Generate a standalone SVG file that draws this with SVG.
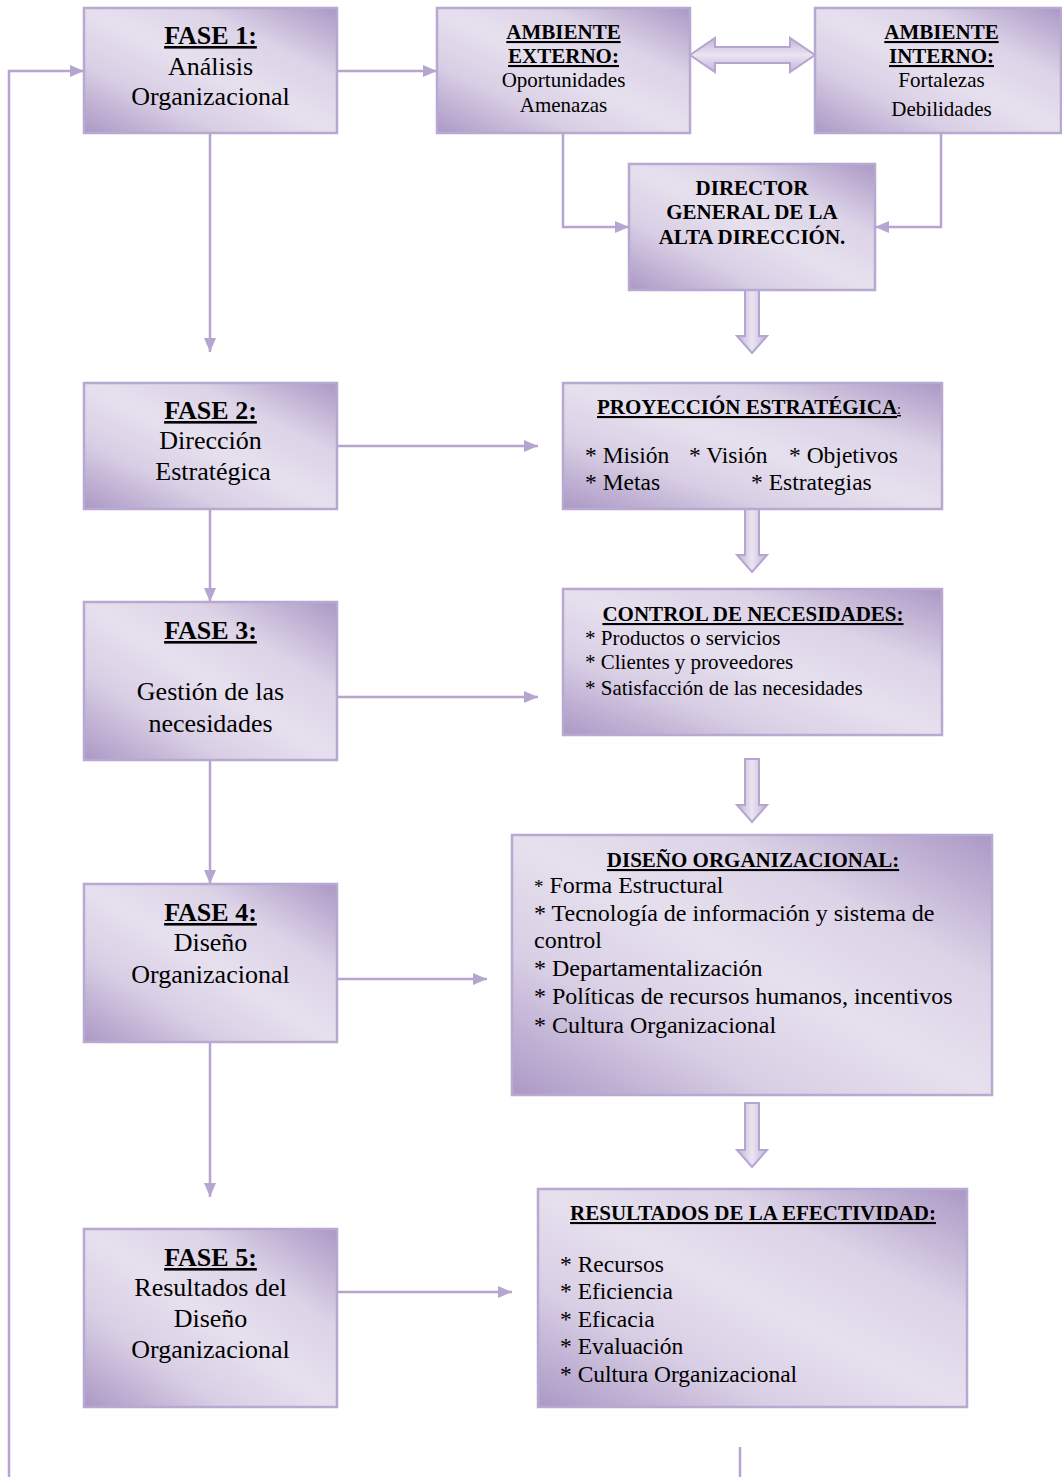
<svg xmlns="http://www.w3.org/2000/svg" width="1062" height="1477" viewBox="0 0 1062 1477">
<defs>
<linearGradient id="gb" x1="0" y1="1" x2="1" y2="0">
<stop offset="0" stop-color="#ab98c5"/>
<stop offset="0.28" stop-color="#d9cfe5"/>
<stop offset="0.5" stop-color="#e6e0ee"/>
<stop offset="0.72" stop-color="#dcd3e7"/>
<stop offset="1" stop-color="#ab98c5"/>
</linearGradient>
<linearGradient id="ga" x1="0" y1="0" x2="1" y2="0">
<stop offset="0" stop-color="#c2b3d8"/>
<stop offset="0.5" stop-color="#ebe5f2"/>
<stop offset="1" stop-color="#c2b3d8"/>
</linearGradient>
<linearGradient id="gv" x1="0" y1="0" x2="0" y2="1">
<stop offset="0" stop-color="#c2b3d8"/>
<stop offset="0.5" stop-color="#ebe5f2"/>
<stop offset="1" stop-color="#c2b3d8"/>
</linearGradient>
<marker id="ah" markerUnits="userSpaceOnUse" markerWidth="14" markerHeight="12" viewBox="0 0 14 12" refX="14" refY="6" orient="auto">
<path d="M0,0 L14,6 L0,12 Z" fill="#b5a5cf"/>
</marker>
</defs>
<style>
.box{fill:url(#gb);stroke:#b8a9d1;stroke-width:2.5}
.ln{fill:none;stroke:#b5a5cf;stroke-width:2.5}
.blk{fill:url(#ga);stroke:#b5a5cf;stroke-width:2}
.t{font-family:"Liberation Serif","Times New Roman",serif;fill:#000}
.h{font-weight:bold;text-decoration:underline}
.b{font-weight:bold}
.c{text-anchor:middle}
.f26{font-size:26px}
.f21{font-size:21px}
.f24{font-size:24px}
.f23{font-size:23.5px}
</style>
<rect width="1062" height="1477" fill="#ffffff"/>

<g id="connectors">
<polyline class="ln" points="9,1477 9,71 84,71" marker-end="url(#ah)"/>
<line class="ln" x1="337" y1="71" x2="437" y2="71" marker-end="url(#ah)"/>
<line class="ln" x1="210" y1="133" x2="210" y2="352" marker-end="url(#ah)"/>
<line class="ln" x1="337" y1="446" x2="538" y2="446" marker-end="url(#ah)"/>
<line class="ln" x1="210" y1="509" x2="210" y2="602" marker-end="url(#ah)"/>
<line class="ln" x1="337" y1="697" x2="538" y2="697" marker-end="url(#ah)"/>
<line class="ln" x1="210" y1="760" x2="210" y2="884" marker-end="url(#ah)"/>
<line class="ln" x1="337" y1="979" x2="487" y2="979" marker-end="url(#ah)"/>
<line class="ln" x1="210" y1="1042" x2="210" y2="1197" marker-end="url(#ah)"/>
<line class="ln" x1="337" y1="1292" x2="512" y2="1292" marker-end="url(#ah)"/>
<polyline class="ln" points="563,133 563,227 629,227" marker-end="url(#ah)"/>
<polyline class="ln" points="941,133 941,227 875,227" marker-end="url(#ah)"/>
<line class="ln" x1="740" y1="1447" x2="740" y2="1477"/>
<path class="blk" style="fill:url(#gv)" d="M690,55 L715,38 L715,47 L790,47 L790,38 L815,55 L790,72 L790,63 L715,63 L715,72 Z"/>
<path class="blk" d="M745,290 L759,290 L759,336 L767,336 L752,353 L737,336 L745,336 Z"/>
<path class="blk" d="M745,509 L759,509 L759,555 L767,555 L752,572 L737,555 L745,555 Z"/>
<path class="blk" d="M745,759 L759,759 L759,805 L767,805 L752,822 L737,805 L745,805 Z"/>
<path class="blk" d="M745,1103 L759,1103 L759,1150 L767,1150 L752,1167 L737,1150 L745,1150 Z"/>
</g>

<g id="fase1">
<rect class="box" x="84" y="8" width="253" height="125"/>
<text class="t h c f26" x="210.5" y="44">FASE 1:</text>
<text class="t c f26" x="210.5" y="75">Análisis</text>
<text class="t c f26" x="210.5" y="105">Organizacional</text>
</g>

<g id="ambiente-externo">
<rect class="box" x="437" y="8" width="253" height="125"/>
<text class="t h c f21" x="563.5" y="39">AMBIENTE</text>
<text class="t h c f21" x="563.5" y="63">EXTERNO:</text>
<text class="t c f21" x="563.5" y="87">Oportunidades</text>
<text class="t c f21" x="563.5" y="112">Amenazas</text>
</g>

<g id="ambiente-interno">
<rect class="box" x="815" y="8" width="246" height="125"/>
<text class="t h c f21" x="941.5" y="39">AMBIENTE</text>
<text class="t h c f21" x="941.5" y="63">INTERNO:</text>
<text class="t c f21" x="941.5" y="87">Fortalezas</text>
<text class="t c f21" x="941.5" y="116">Debilidades</text>
</g>

<g id="director">
<rect class="box" x="629" y="164" width="246" height="126"/>
<text class="t b c f21" x="752" y="195">DIRECTOR</text>
<text class="t b c f21" x="752" y="219">GENERAL DE LA</text>
<text class="t b c f21" x="752" y="244">ALTA DIRECCIÓN.</text>
</g>

<g id="fase2">
<rect class="box" x="84" y="383" width="253" height="126"/>
<text class="t h c f26" x="210.5" y="419">FASE 2:</text>
<text class="t c f26" x="210.5" y="449">Dirección</text>
<text class="t c f26" x="213" y="480">Estratégica</text>
</g>

<g id="proyeccion">
<rect class="box" x="563" y="383" width="379" height="126"/>
<text class="t f21" x="597" y="414"><tspan class="h">PROYECCIÓN ESTRATÉGICA</tspan><tspan style="font-size:14px;text-decoration:underline">:</tspan></text>
<text class="t f23" x="585" y="463">* Misión</text>
<text class="t f23" x="689" y="463">* Visión</text>
<text class="t f23" x="789" y="463">* Objetivos</text>
<text class="t f23" x="585" y="490">* Metas</text>
<text class="t f23" x="751" y="490">* Estrategias</text>
</g>

<g id="fase3">
<rect class="box" x="84" y="602" width="253" height="158"/>
<text class="t h c f26" x="210.5" y="639">FASE 3:</text>
<text class="t c f26" x="210.5" y="700">Gestión de las</text>
<text class="t c f26" x="210.5" y="732">necesidades</text>
</g>

<g id="control">
<rect class="box" x="563" y="589" width="379" height="146"/>
<text class="t h c f21" x="753" y="621">CONTROL DE NECESIDADES:</text>
<text class="t f21" x="585" y="645">* Productos o servicios</text>
<text class="t f21" x="585" y="669">* Clientes y proveedores</text>
<text class="t f21" x="585" y="695">* Satisfacción de las necesidades</text>
</g>

<g id="fase4">
<rect class="box" x="84" y="884" width="253" height="158"/>
<text class="t h c f26" x="210.5" y="921">FASE 4:</text>
<text class="t c f26" x="210.5" y="951">Diseño</text>
<text class="t c f26" x="210.5" y="983">Organizacional</text>
</g>

<g id="diseno">
<rect class="box" x="512" y="835" width="480" height="260"/>
<text class="t h c f21" x="753" y="867">DISEÑO ORGANIZACIONAL:</text>
<text class="t f24" x="534" y="893"><tspan font-size="19">*</tspan> Forma Estructural</text>
<text class="t f24" x="534" y="921">* Tecnología de información y sistema de</text>
<text class="t f24" x="534" y="948">control</text>
<text class="t f24" x="534" y="976">* Departamentalización</text>
<text class="t f24" x="534" y="1004">* Políticas de recursos humanos, incentivos</text>
<text class="t f24" x="534" y="1033">* Cultura Organizacional</text>
</g>

<g id="fase5">
<rect class="box" x="84" y="1229" width="253" height="178"/>
<text class="t h c f26" x="210.5" y="1266">FASE 5:</text>
<text class="t c f26" x="210.5" y="1296">Resultados del</text>
<text class="t c f26" x="210.5" y="1327">Diseño</text>
<text class="t c f26" x="210.5" y="1358">Organizacional</text>
</g>

<g id="resultados">
<rect class="box" x="538" y="1189" width="429" height="218"/>
<text class="t h c f21" x="753" y="1220">RESULTADOS DE LA EFECTIVIDAD:</text>
<text class="t f23" x="560" y="1272">* Recursos</text>
<text class="t f23" x="560" y="1299">* Eficiencia</text>
<text class="t f23" x="560" y="1327">* Eficacia</text>
<text class="t f23" x="560" y="1354">* Evaluación</text>
<text class="t f23" x="560" y="1382">* Cultura Organizacional</text>
</g>
</svg>
